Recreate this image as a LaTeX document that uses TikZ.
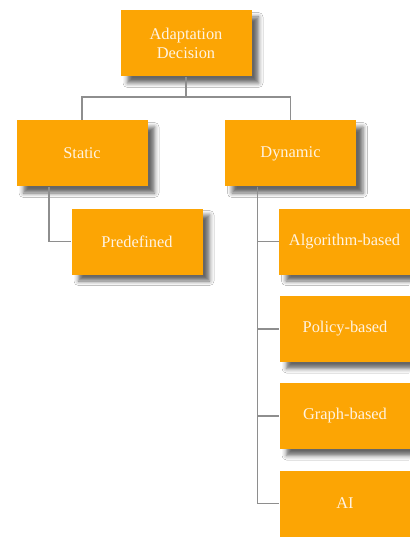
\documentclass[tikz,border=0pt]{standalone}
\usepackage{fontspec}
\setmainfont{Liberation Serif}
\usetikzlibrary{shadows.blur,calc}
\definecolor{boxorange}{HTML}{FCA504}
\definecolor{boxtext}{HTML}{FFF3E2}
\definecolor{linegray}{HTML}{8E8E8E}
\tikzset{
  box/.style={fill=boxorange, draw=none, minimum width=131pt, minimum height=66pt,
    inner sep=0pt, align=center, text=boxtext,
    font=\fontsize{16.4}{18.5}\selectfont,
    blur shadow={shadow xshift=7pt, shadow yshift=-6.5pt, shadow blur radius=4.5pt, shadow opacity=60}},
  conn/.style={draw=linegray, line width=1.4pt}
}
\begin{document}
\begin{tikzpicture}[x=1pt,y=-1pt]
\useasboundingbox (0,0) rectangle (409,537);
\fill[white] (0,0) rectangle (409,537);
\node[box] (top) at (186,43.5) {Adaptation\\Decision};
\node[box] (static) at (82,153.5) {Static};
\node[box] (dynamic) at (290.5,153.5) {Dynamic};
\node[box] (predef) at (137,241.5) {Predefined};
\node[box] (algo) at (344.5,241.5) {Algorithm-based};
\node[box] (policy) at (345,329) {Policy-based};
\node[box] (graph) at (345,416) {Graph-based};
\node[box] (ai) at (345,503.5) {AI};
\coordinate (bus) at (186,97);
\coordinate (stap) at ($(static.south west)!0.25!(static.south east)$);
\coordinate (dtap) at ($(dynamic.south west)!0.25!(dynamic.south east)$);
\draw[conn] (top.south) -- (bus);
\draw[conn] (bus) -| (static.north);
\draw[conn] (bus) -| (dynamic.north);
\draw[conn] (stap) |- (predef.west);
\draw[conn] (dtap) |- (algo.west);
\draw[conn] (dtap) |- (policy.west);
\draw[conn] (dtap) |- (graph.west);
\draw[conn] (dtap) |- (ai.west);
\end{tikzpicture}
\end{document}
